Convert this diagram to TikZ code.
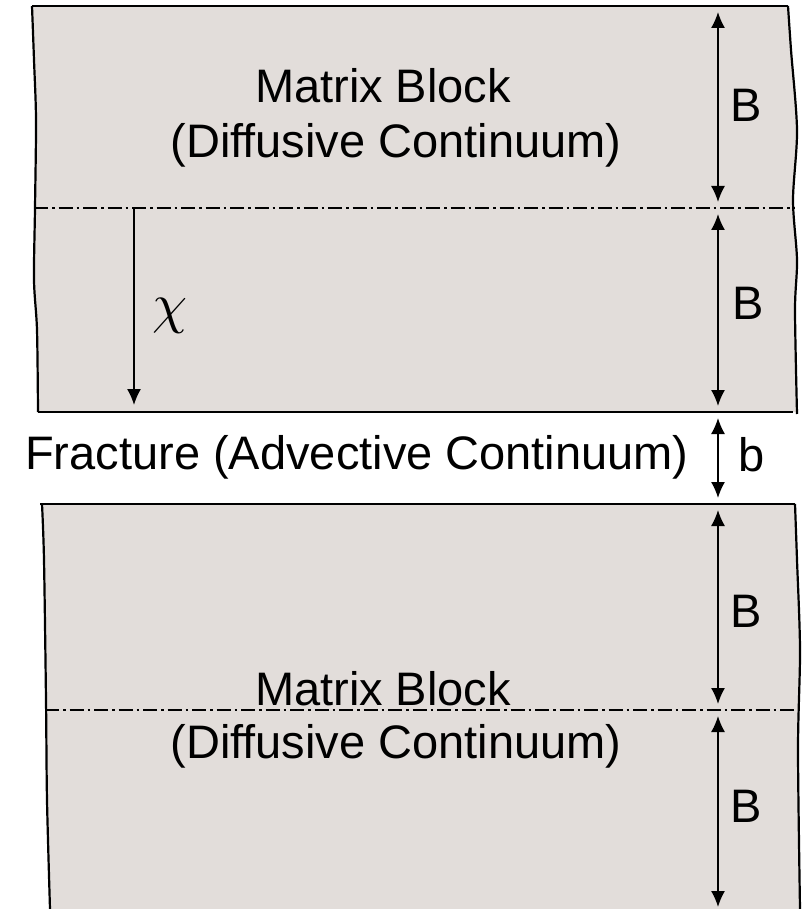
\documentclass[tikz,border=0pt]{standalone}
\usepackage{fontspec}
\setmainfont{Liberation Sans}
\usetikzlibrary{arrows.meta}
\definecolor{rockgray}{RGB}{226,221,218}
\begin{document}
\begin{tikzpicture}[x=1pt, y=-1pt,
  edge/.style={line width=2.2pt, line join=round},
  cutline/.style={line width=1.8pt, dash pattern=on 14pt off 4pt on 2.5pt off 4pt},
  dim/.style={line width=1.5pt, {Latex[length=16pt,width=14pt]}-{Latex[length=16pt,width=14pt]}, shorten <=6pt, shorten >=6pt},
  lbl/.style={font=\fontsize{47}{56}\selectfont, inner sep=0pt}]
\useasboundingbox (0,0) rectangle (805,909);
% blocks
\fill[rockgray] (32,6) -- (788,6) -- plot[smooth] coordinates {(788,6) (791,50) (797,130) (793,200) (797,260) (795,310) (797,412)} -- (38,412) -- plot[smooth] coordinates {(38,412) (37,330) (34,280) (35,208) (36,120) (34,60) (32,6)} -- cycle;
\fill[rockgray] (42,504) -- (795,504) -- plot[smooth] coordinates {(795,504) (797,560) (800,650) (798,750) (800,909)} -- (50,909) -- plot[smooth] coordinates {(50,909) (47,800) (46,700) (44,560) (42,504)} -- cycle;
\draw[edge] (32,6) -- (788,6);
\draw[edge] (38,412) -- (793,412);
\draw[edge] (40,504) -- (795,504);
\draw[edge] plot[smooth] coordinates {(32,6) (34,60) (36,120) (35,208) (34,280) (37,330) (38,412)};
\draw[edge] plot[smooth] coordinates {(788,6) (791,50) (797,130) (793,200) (797,260) (795,310) (797,414)};
\draw[edge] plot[smooth] coordinates {(42,504) (44,560) (46,700) (47,800) (50,909)};
\draw[edge] plot[smooth] coordinates {(795,504) (797,560) (800,650) (798,750) (800,909)};
\draw[cutline] (34,208) -- (795,208);
\draw[cutline] (45,710) -- (798,710);
% dimensions
\coordinate (top1) at (718,6);
\coordinate (mid1) at (718,208);
\coordinate (bot1) at (718,412);
\coordinate (top2) at (718,504);
\coordinate (mid2) at (718,710);
\coordinate (bot2) at (718,913);
\draw[dim] (top1) -- (mid1);
\draw[dim] (mid1) -- (bot1);
\draw[dim] (bot1) -- (top2);
\draw[dim] (top2) -- (mid2);
\draw[dim] (mid2) -- (bot2);
\coordinate (chi0) at (134,208);
\coordinate (chi1) at (134,412);
\draw[line width=1.5pt, -{Latex[length=16pt,width=14pt]}, shorten >=7pt] (chi0) -- (chi1);
% labels
\node[lbl] (B1) at (746,105) {B};
\node[lbl] (B2) at (748,303) {B};
\node[lbl] (gap) at (752,455) {b};
\node[lbl] (B3) at (746,611) {B};
\node[lbl] (B4) at (746,806) {B};
\node[scale=5.6, inner sep=0pt] (chi) at (170,316) {$\chi$};
\node[lbl] (mat1) at (383,86) {Matrix Block};
\node[lbl] (dif1) at (396,145) {(Diffusive Continuum)};
\node[lbl] (frac) at (357,457) {Fracture (Advective Continuum)};
\node[lbl] (mat2) at (383,689) {Matrix Block};
\node[lbl] (dif2) at (396,746) {(Diffusive Continuum)};
\end{tikzpicture}
\end{document}
